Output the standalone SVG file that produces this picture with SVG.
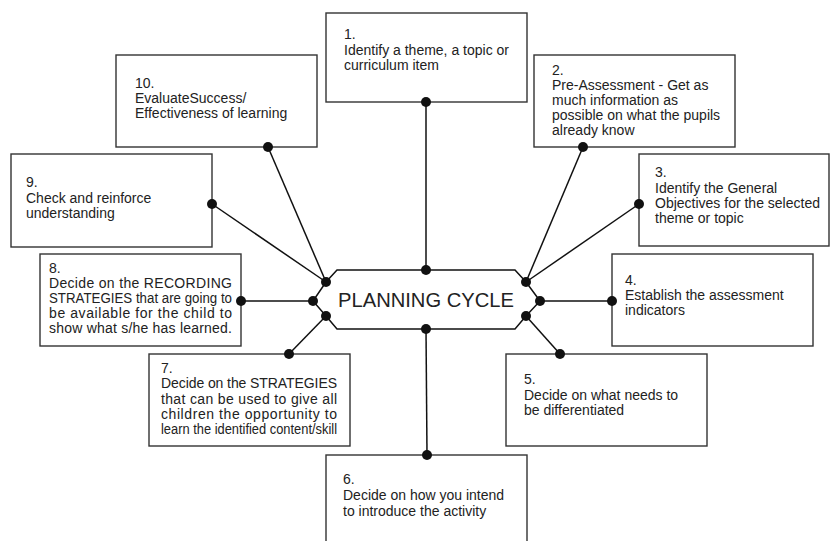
<svg xmlns="http://www.w3.org/2000/svg" width="831" height="541" viewBox="0 0 831 541">
<style>
.box{fill:#fff;stroke:#333;stroke-width:1.4}
.t{font-family:"Liberation Sans",Arial,sans-serif;font-size:14px;fill:#222}
.c{stroke:#111;stroke-width:1.5;fill:none}
.d{fill:#111}
.title{font-family:"Liberation Sans",Arial,sans-serif;font-size:20px;fill:#222}
</style>
<rect width="831" height="541" fill="#fff"/>
<g id="connectors">
<line class="c" x1="426" y1="102" x2="426" y2="270"/>
<line class="c" x1="268" y1="147" x2="326" y2="282"/>
<line class="c" x1="212" y1="204" x2="326" y2="282"/>
<line class="c" x1="241" y1="301" x2="313" y2="301"/>
<line class="c" x1="289" y1="354" x2="326" y2="316"/>
<line class="c" x1="427" y1="455" x2="426" y2="329"/>
<line class="c" x1="560" y1="354" x2="526" y2="316"/>
<line class="c" x1="612" y1="301" x2="540" y2="301"/>
<line class="c" x1="639" y1="204" x2="526" y2="282"/>
<line class="c" x1="583" y1="147" x2="526" y2="282"/>
</g>
<g id="center">
<polygon class="box" points="337,270 515,270 526,282 540,301 526,316 515,329 337,329 326,316 313,301 326,282" style="stroke:#111;stroke-width:1.5"/>
<text class="title" x="426" y="307" text-anchor="middle" textLength="176" lengthAdjust="spacingAndGlyphs">PLANNING CYCLE</text>
<circle class="d" cx="426" cy="270" r="5"/>
<circle class="d" cx="426" cy="329" r="5"/>
<circle class="d" cx="326" cy="282" r="5"/>
<circle class="d" cx="313" cy="301" r="5"/>
<circle class="d" cx="326" cy="316" r="5"/>
<circle class="d" cx="526" cy="282" r="5"/>
<circle class="d" cx="540" cy="301" r="5"/>
<circle class="d" cx="526" cy="316" r="5"/>
</g>
<g id="n1">
<rect class="box" x="326" y="13" width="201" height="89"/>
<text class="t" x="344" y="39">1.</text>
<text class="t" x="344" y="55">Identify a theme, a topic or</text>
<text class="t" x="344" y="70">curriculum item</text>
<circle class="d" cx="426" cy="102" r="5"/>
</g>
<g id="n2">
<rect class="box" x="534" y="55" width="201" height="92"/>
<text class="t" x="552" y="75">2.</text>
<text class="t" x="552" y="90">Pre-Assessment - Get as</text>
<text class="t" x="552" y="105">much information as</text>
<text class="t" x="552" y="120">possible on what the pupils</text>
<text class="t" x="552" y="135">already know</text>
<circle class="d" cx="583" cy="147" r="5"/>
</g>
<g id="n3">
<rect class="box" x="639" y="154" width="190" height="92"/>
<text class="t" x="655" y="177">3.</text>
<text class="t" x="655" y="193">Identify the General</text>
<text class="t" x="655" y="208">Objectives for the selected</text>
<text class="t" x="655" y="223">theme or topic</text>
<circle class="d" cx="639" cy="204" r="5"/>
</g>
<g id="n4">
<rect class="box" x="612" y="254" width="201" height="92"/>
<text class="t" x="625" y="285">4.</text>
<text class="t" x="625" y="300">Establish the assessment</text>
<text class="t" x="625" y="315">indicators</text>
<circle class="d" cx="612" cy="301" r="5"/>
</g>
<g id="n5">
<rect class="box" x="506" y="354" width="201" height="92"/>
<text class="t" x="524" y="384">5.</text>
<text class="t" x="524" y="400">Decide on what needs to</text>
<text class="t" x="524" y="415">be differentiated</text>
<circle class="d" cx="560" cy="354" r="5"/>
</g>
<g id="n6">
<rect class="box" x="326" y="455" width="201" height="92"/>
<text class="t" x="343" y="484">6.</text>
<text class="t" x="343" y="500">Decide on how you intend</text>
<text class="t" x="343" y="516">to introduce the activity</text>
<circle class="d" cx="427" cy="455" r="5"/>
</g>
<g id="n7">
<rect class="box" x="149" y="354" width="201" height="92"/>
<text class="t" x="161" y="373">7.</text>
<text class="t" x="161" y="388" textLength="176" lengthAdjust="spacing">Decide on the STRATEGIES</text>
<text class="t" x="161" y="404" textLength="176" lengthAdjust="spacing">that can be used to give all</text>
<text class="t" x="161" y="419" textLength="176" lengthAdjust="spacing">children the opportunity to</text>
<text class="t" x="161" y="434" textLength="176" lengthAdjust="spacingAndGlyphs">learn the identified content/skill</text>
<circle class="d" cx="289" cy="354" r="5"/>
</g>
<g id="n8">
<rect class="box" x="40" y="254" width="201" height="92"/>
<text class="t" x="49" y="273">8.</text>
<text class="t" x="49" y="288" textLength="183" lengthAdjust="spacing">Decide on the RECORDING</text>
<text class="t" x="49" y="303" textLength="183" lengthAdjust="spacingAndGlyphs">STRATEGIES that are going to</text>
<text class="t" x="49" y="318" textLength="183" lengthAdjust="spacing">be available for the child to</text>
<text class="t" x="49" y="333" textLength="183" lengthAdjust="spacing">show what s/he has learned.</text>
<circle class="d" cx="241" cy="301" r="5"/>
</g>
<g id="n9">
<rect class="box" x="11" y="154" width="201" height="93"/>
<text class="t" x="26" y="187">9.</text>
<text class="t" x="26" y="203">Check and reinforce</text>
<text class="t" x="26" y="218">understanding</text>
<circle class="d" cx="212" cy="204" r="5"/>
</g>
<g id="n10">
<rect class="box" x="116" y="55" width="201" height="92"/>
<text class="t" x="135" y="88">10.</text>
<text class="t" x="135" y="103">EvaluateSuccess/</text>
<text class="t" x="135" y="118">Effectiveness of learning</text>
<circle class="d" cx="268" cy="147" r="5"/>
</g>
</svg>
